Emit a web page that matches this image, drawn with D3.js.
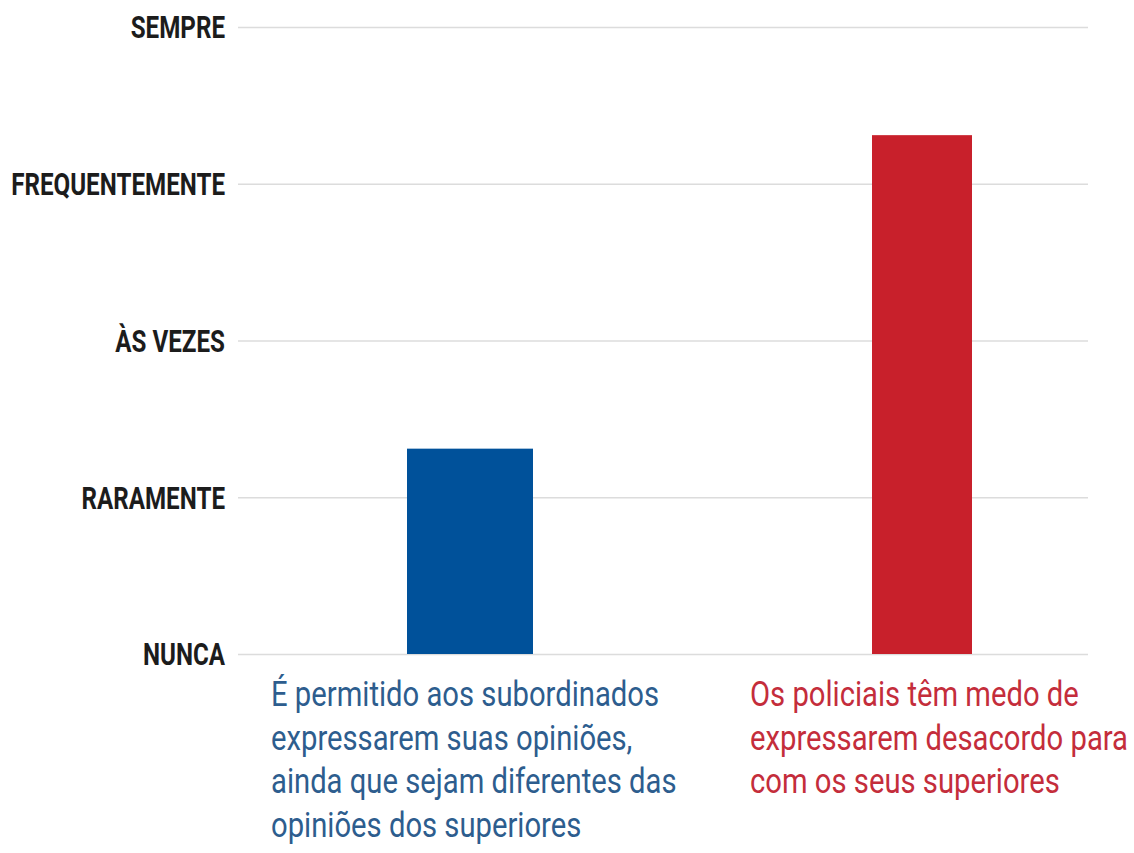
<!DOCTYPE html>
<meta charset="utf-8">
<style>
    body { margin: 0; background: #fff; }
    .axis text {
        font-family: Roboto, sans-serif;
        font-weight: bold;
        font-size: 31px;
        fill: #1c1c1c;
    }
    .axis line { stroke: #dcdcdc; stroke-width: 1.6; }
    .label text {
        font-family: Roboto, sans-serif;
        font-size: 35px;
    }
</style>
<svg width="1134" height="853"></svg>
<script src="https://d3js.org/d3.v7.min.js"></script>
<script>
    // answer scale, bottom to top
    var levels = ["NUNCA", "RARAMENTE", "ÀS VEZES", "FREQUENTEMENTE", "SEMPRE"];

    var categories = ["permitido", "medo"];
    var values = [1.31, 3.31];

    var categoryLines = [
        ["É permitido aos subordinados", "expressarem suas opiniões,", "ainda que sejam diferentes das", "opiniões dos superiores"],
        ["Os policiais têm medo de", "expressarem desacordo para", "com os seus superiores"]
    ];

    var data = categories.map(function (c, i) {
        return {cat: c, value: values[i], lines: categoryLines[i]};
    });

    var svg = d3.select("svg");

    var y = d3.scaleLinear()
        .domain([0, levels.length - 1])
        .range([654, 27]);

    var x = d3.scalePoint()
        .domain(categories)
        .range([470, 922]);

    var barColor = d3.scaleOrdinal().domain(categories).range(["#00519a", "#c8202b"]);
    var textColor = d3.scaleOrdinal().domain(categories).range(["#2d5d8e", "#c42d3b"]);
    var barWidth = d3.scaleOrdinal().domain(categories).range([126, 100]);
    var labelShift = d3.scaleOrdinal().domain(categories).range([-199, -172]);

    // gridlines + level labels
    var axis = svg.append("g")
        .attr("class", "axis")
        .attr("transform", "translate(238,0)")
        .call(d3.axisLeft(y)
            .tickValues(d3.range(levels.length))
            .tickFormat(function (d) { return levels[d]; })
            .tickSize(-850)
            .tickPadding(13));

    axis.select(".domain").remove();
    axis.selectAll("text")
        .attr("x", null)
        .attr("dy", "0.35em")
        .attr("transform", "translate(-13,0) scale(0.78,1)");

    svg.selectAll(".bar")
        .data(data)
        .enter().append("rect")
        .attr("class", "bar")
        .attr("x", function (d) { return x(d.cat) - barWidth(d.cat) / 2; })
        .attr("width", function (d) { return barWidth(d.cat); })
        .attr("y", function (d) { return y(d.value); })
        .attr("height", function (d) { return y(0) - y(d.value); })
        .attr("fill", function (d) { return barColor(d.cat); });

    var label = svg.selectAll(".label")
        .data(data)
        .enter().append("g")
        .attr("class", "label")
        .attr("fill", function (d) { return textColor(d.cat); });

    label.selectAll("text")
        .data(function (d) { return d.lines.map(function (l) { return {cat: d.cat, line: l}; }); })
        .enter().append("text")
        .attr("transform", function (d, i) {
            return "translate(" + (x(d.cat) + labelShift(d.cat)) + "," + (706 + i * 43.5) + ") scale(0.835,1)";
        })
        .text(function (d) { return d.line; });
</script>
